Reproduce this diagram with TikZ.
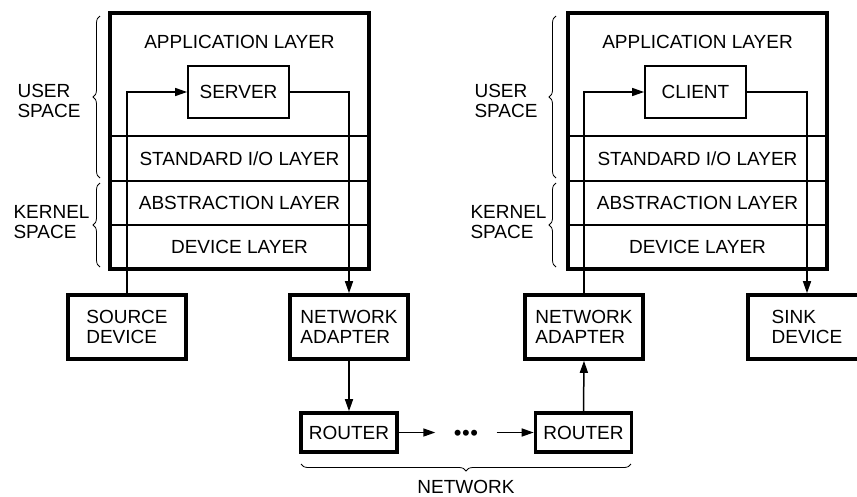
\documentclass[tikz,border=0pt]{standalone}
\usepackage{fontspec}
\setmainfont{Liberation Sans}
\usetikzlibrary{arrows.meta,decorations.pathreplacing}

\begin{document}
\begin{tikzpicture}[x=1pt, y=-1pt,
        font=\fontsize{19}{20}\selectfont,
        layer/.style={draw, line width=1.6pt, minimum width=259pt, inner sep=0pt},
        stack/.style={draw, line width=3.6pt, minimum width=259pt, minimum height=256pt, inner sep=0pt},
        prog/.style={draw, line width=1.8pt, minimum width=101pt, minimum height=52pt, inner sep=0pt},
        dev/.style={draw, line width=3.6pt, minimum width=118pt, minimum height=64pt, inner sep=0pt, align=left},
        router/.style={draw, line width=3.6pt, minimum width=96pt, minimum height=39pt, inner sep=0pt},
        link/.style={line width=1.5pt, -{Triangle[length=12pt,width=8pt]}},
        brc/.style={decorate, decoration={brace, amplitude=7pt}, line width=0.8pt},
        side/.style={anchor=west, align=left}]
        \useasboundingbox (0,0) rectangle (857,496);

        % Left host: layers
        \node[layer, minimum height=45pt] (std1) at (239.5,158.5) {STANDARD I/O LAYER};
        \node[layer, minimum height=44pt] (abs1) at (239.5,203) {ABSTRACTION LAYER};
        \node[layer, minimum height=44pt] (dev1) at (239.5,247) {DEVICE LAYER};
        \node[stack] (host1) at (239.5,141) {};
        \node (app1) at (239.5,42) {APPLICATION LAYER};
        \node[prog] (srv) at (238.5,92) {SERVER};

        % Right host: layers
        \node[layer, minimum height=45pt] (std2) at (697.5,158.5) {STANDARD I/O LAYER};
        \node[layer, minimum height=44pt] (abs2) at (697.5,203) {ABSTRACTION LAYER};
        \node[layer, minimum height=44pt] (dev2) at (697.5,247) {DEVICE LAYER};
        \node[stack] (host2) at (697.5,141) {};
        \node (app2) at (697.5,42) {APPLICATION LAYER};
        \node[prog] (cli) at (695.5,92) {CLIENT};

        % Devices and network
        \node[dev] (src) at (127,327) {SOURCE\\DEVICE};
        \node[dev] (net1) at (349,327) {NETWORK\\ADAPTER};
        \node[dev] (net2) at (584,327) {NETWORK\\ADAPTER};
        \node[dev] (snk) at (807,327) {SINK\\DEVICE};
        \node[router] (rt1) at (349,432.5) {ROUTER};
        \node[router] (rt2) at (583.5,432.5) {ROUTER};
        \node[minimum width=61pt, inner sep=0pt, font=\fontsize{22}{22}\selectfont] (dots) at (466,435)
            {\textbullet\hspace{0.5pt}\textbullet\hspace{0.5pt}\textbullet};

        % Draw connections
        \draw[link] (src.north) |- (srv.west);
        \draw[link] (srv.east) -| (net1.north);
        \draw[link] (net1.south) -- (rt1.north);
        \draw[link] (rt1.east) -- (rt1.east -| dots.west);
        \draw[link] (dots.east |- rt2.west) -- (rt2.west);
        \draw[link] (rt2.north) -- (net2.south);
        \draw[link] (net2.north) |- (cli.west);
        \draw[link] (cli.east) -| (snk.north);

        % Braces
        \draw[brc] (100,178) -- (100,16);
        \draw[brc] (100,267) -- (100,183);
        \draw[brc] (556,178) -- (556,16);
        \draw[brc] (556,267) -- (556,183);
        \draw[brc] (631,464) -- (301,464);

        % Labels
        \node[side] (usr1) at (14,101) {USER\\SPACE};
        \node[side] (krn1) at (10,222) {KERNEL\\SPACE};
        \node[side] (usr2) at (471,101) {USER\\SPACE};
        \node[side] (krn2) at (467,222) {KERNEL\\SPACE};
        \node (netw) at (466,487) {NETWORK};
    \end{tikzpicture}
\end{document}
